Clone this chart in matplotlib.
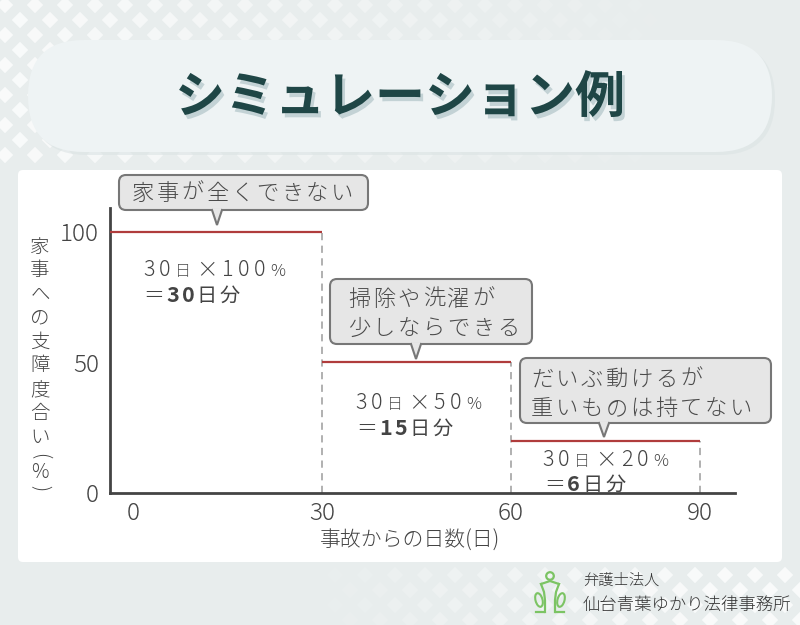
import matplotlib
matplotlib.use('Agg')
import matplotlib.pyplot as plt
import numpy as np
from matplotlib.patches import FancyBboxPatch, Polygon, Circle, Ellipse
import matplotlib.patheffects as pe

plt.rcParams['font.family'] = ['Noto Sans CJK JP', 'DejaVu Sans']
plt.rcParams['font.weight'] = 'light'

# ---------------- data ----------------
days = [0, 30, 60, 90]                 # period boundaries (days since accident)
impact = [100, 50, 20]                 # % impact on housework per period
x_ticks = [0, 30, 60, 90]
y_ticks = [0, 50, 100]
calc_days = ['30', '30', '30']
calc_pct = ['100', '50', '20']
calc_result = ['30', '15', '6']
callout_lines = [['家事が全くできない'],
                 ['掃除や洗濯が', '少しならできる'],
                 ['だいぶ動けるが', '重いものは持てない']]
title = 'シミュレーション例'
x_label = '事故からの日数(日)'
y_label_chars = list('家事への支障度合い') + ['(', '%', ')']
firm_lines = ['弁護士法人', '仙台青葉ゆかり法律事務所']

W, H = 800, 625
fig = plt.figure(figsize=(8, 6.25), dpi=100)
fig.patch.set_facecolor('#e8eded')

# background / decoration axes in pixel coordinates
bg = fig.add_axes([0, 0, 1, 1], zorder=-10)
bg.set_xlim(0, W); bg.set_ylim(H, 0); bg.axis('off')

# diamond pattern
gx, gy = np.meshgrid(np.arange(-10, W + 30, 30), np.arange(-10, H + 30, 30))
gx2 = np.concatenate([gx.ravel(), (gx + 15).ravel()])
gy2 = np.concatenate([gy.ravel(), (gy + 15).ravel()])
a_top = np.clip(1 - gx2 / 700, 0, 1) * (gy2 < 170)
a_bot = np.clip((gx2 - 300) / 400, 0, 1) * (gy2 > 565)
alpha = np.clip(np.maximum(a_top, a_bot), 0, 1) * 0.75
cols = np.ones((len(gx2), 4)); cols[:, 3] = alpha
bg.scatter(gx2, gy2, s=70, marker='D', c=cols, linewidths=0)

# title pill
bg.add_patch(FancyBboxPatch((31, 43), 744, 112, boxstyle='round,pad=0,rounding_size=56',
                            fc='#dbe3e4', ec='none', alpha=0.6))
bg.add_patch(FancyBboxPatch((28, 40), 744, 112, boxstyle='round,pad=0,rounding_size=56',
                            fc='#eef3f4', ec='none'))
bg.text(400, 98, title, fontsize=36, fontweight='bold', color='#1f4646',
        ha='center', va='center',
        path_effects=[pe.withSimplePatchShadow(offset=(2, -3), shadow_rgbFace='#c3d2d5', alpha=1)])

# white panel
bg.add_patch(FancyBboxPatch((18, 170), 764, 392, boxstyle='round,pad=0,rounding_size=5',
                            fc='white', ec='none'))

# ---------------- main chart ----------------
ax = fig.add_axes([110 / W, 1 - 493 / H, 625 / W, 285 / H])
ax.set_facecolor('none')
ax.set_xlim(-3.65, 95.6)
ax.set_ylim(0, 109)
xlo = ax.get_xlim()[0]
for s in ['top', 'right']:
    ax.spines[s].set_visible(False)
for s in ['left', 'bottom']:
    ax.spines[s].set_color('#444444')
    ax.spines[s].set_linewidth(2.0)

starts = [xlo if d == 0 else d for d in days[:-1]]
ax.hlines(impact, starts, days[1:], colors='#b03c3c', linewidth=1.6, zorder=3)
ax.vlines(days[1:], 0, impact, colors='#aaaaaa', linestyles=(0, (4, 3)), linewidth=1.3, zorder=2)

ax.set_xticks(x_ticks)
ax.set_yticks(y_ticks)
ax.tick_params(length=0, labelsize=17.5, colors='#444444')
ax.tick_params(axis='y', pad=8)
ax.tick_params(axis='x', pad=6)

fig.text(410 / W, 1 - 541 / H, x_label, fontsize=15, color='#444444', ha='center', va='center')

ylab_y = [247 + 23.75 * i for i in range(9)] + [456, 472, 488]
ylab_rot = [0] * 9 + [-90, 0, -90]
for ch, yy, rot in zip(y_label_chars, ylab_y, ylab_rot):
    fig.text(40 / W, 1 - yy / H, ch, fontsize=14, color='#444444', ha='center', va='center',
             rotation=rot, rotation_mode='default')

# ---------------- overlay (callouts, formulas) ----------------
ov = fig.add_axes([0, 0, 1, 1], zorder=10)
ov.set_xlim(0, W); ov.set_ylim(H, 0); ov.axis('off'); ov.set_facecolor('none')
renderer = fig.canvas.get_renderer()


def draw_chars(x, y, pieces, gap):
    for txt, size, weight, color in pieces:
        for ch in txt:
            t = ov.text(x, y, ch, fontsize=size, fontweight=weight, color=color,
                        ha='left', va='baseline')
            bb = t.get_window_extent(renderer)
            x += bb.width + gap
    return x


def callout(x0, y0, x1, y1, px, tip, lines, tx, bases):
    ov.add_patch(FancyBboxPatch((x0, y0), x1 - x0, y1 - y0,
                                boxstyle='round,pad=0,rounding_size=7',
                                fc='#e6e6e6', ec='#777777', lw=1.5))
    ov.add_patch(Polygon([(px - 5, y1 - 1.5), (px, tip), (px + 5, y1 - 1.5)],
                         closed=True, fc='#e6e6e6', ec='none', zorder=3))
    ov.plot([px - 5, px, px + 5], [y1, tip, y1], color='#777777', lw=1.5, zorder=4,
            solid_joinstyle='miter')
    for ln, b in zip(lines, bases):
        draw_chars(tx, b, [(ln, 16, 'light', '#4a4a4a')], 2.6)


callout(119, 175, 368, 210, 217, 225, callout_lines[0], 132, [200])
callout(330, 279, 532, 344, 416, 359, callout_lines[1], 348, [306, 335])
callout(520, 358, 771, 423, 604, 437, callout_lines[2], 531, [386, 415])

calc_pos = [(143, 276, 143, 302), (355, 409, 356, 435), (542, 466, 544, 491)]
for (x1, b1, x2, b2), d, p, r in zip(calc_pos, calc_days, calc_pct, calc_result):
    draw_chars(x1, b1, [(d, 15.5, 'light', '#444444'), ('日', 11.5, 'light', '#555555'),
                        ('×' + p, 15.5, 'light', '#444444'), ('%', 12, 'light', '#444444')], 4.6)
    draw_chars(x2, b2, [('＝', 15, 'light', '#444444'), (r, 15.5, 'bold', '#444444'),
                        ('日分', 14.5, 'normal', '#444444')], 2.5)

# ---------------- firm logo ----------------
g = '#7cc464'
bg.add_patch(Circle((550, 576), 3.8, fc='none', ec=g, lw=1.6))
bg.plot([541, 550, 559], [584, 581, 584], color=g, lw=1.6)
bg.plot([541, 544, 545, 545], [584, 592, 600, 612], color=g, lw=1.6)
bg.plot([559, 556, 555, 555], [584, 592, 600, 612], color=g, lw=1.6)
bg.add_patch(Ellipse((539, 600), 7, 14, angle=-15, fc='none', ec=g, lw=1.5))
bg.add_patch(Ellipse((561, 600), 7, 14, angle=15, fc='none', ec=g, lw=1.5))
bg.plot([536, 544], [612, 612], color=g, lw=1.6)
bg.plot([556, 564], [612, 612], color=g, lw=1.6)
bg.text(583, 581, firm_lines[0], fontsize=11, color='#333333', ha='left', va='center')
bg.text(583, 605, firm_lines[1], fontsize=12.5, color='#333333', ha='left', va='center')

fig.savefig('out.png', dpi=100, facecolor=fig.get_facecolor())
